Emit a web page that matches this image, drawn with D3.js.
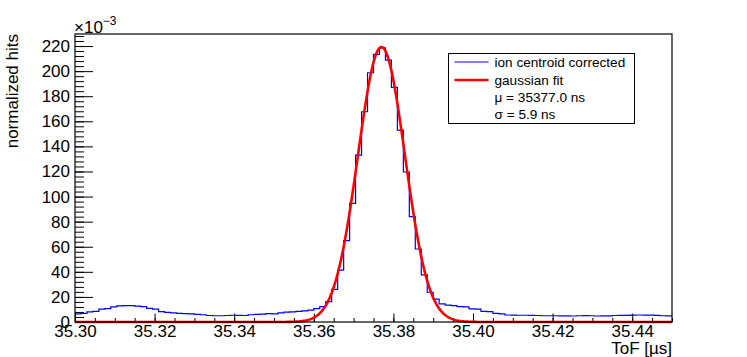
<!DOCTYPE html>
<html>
<head>
<meta charset="utf-8">
<script src="https://cdn.jsdelivr.net/npm/d3@7"></script>
<style>
  body { margin: 0; background: #fff; }
  svg { font-family: "Liberation Sans", Arial, sans-serif; }
</style>
</head>
<body>
<div id="body"></div>
<script>
// histogram: 100 bins between 35.30 and 35.45 us, values in units of 1e-3
var xRange = [35.30, 35.45];
var histValues = [
  6.4, 6.8, 8.0, 8.4, 10.2, 10.6, 12.0, 12.8, 13.1, 13.0,
  12.6, 12.2, 10.8, 10.3, 8.2, 7.6, 7.2, 6.8, 6.6, 6.4,
  6.0, 5.8, 5.2, 5.0, 5.0, 5.2, 5.4, 5.3, 5.2, 5.8,
  6.0, 6.3, 6.6, 6.5, 7.2, 7.9, 8.0, 8.4, 8.8, 9.4,
  10.6, 12.2, 16.2, 26.0, 41.4, 64.8, 94.6, 133.0, 167.6, 198.7,
  213.4, 218.6, 208.8, 187.0, 153.0, 119.6, 84.0, 58.2, 37.5, 23.7,
  18.3, 14.5, 13.5, 13.0, 12.2, 12.0, 10.5, 10.2, 8.4, 8.2,
  6.8, 6.4, 5.6, 5.5, 5.4, 5.4, 5.3, 5.2, 5.0, 5.0,
  5.0, 4.9, 4.9, 4.8, 5.0, 5.1, 5.0, 4.8, 4.9, 4.9,
  5.2, 5.3, 5.3, 5.5, 5.6, 5.5, 5.5, 5.3, 5.0, 4.9
];
// gaussian fit parameters (mu, sigma in us, amplitude in 1e-3)
var fitMu = 35.3770, fitSigma = 0.0059, fitAmp = 219.2;

var xTicks = [35.30, 35.32, 35.34, 35.36, 35.38, 35.40, 35.42, 35.44];
var yTicks = [0, 20, 40, 60, 80, 100, 120, 140, 160, 180, 200, 220];
var legendLabels = ["ion centroid corrected", "gaussian fit", "\u03bc = 35377.0 ns", "\u03c3 = 5.9 ns"];

var margin = {top: 34, right: 75, bottom: 35, left: 75},
    W = 747, H = 357,
    width = W - margin.left - margin.right,
    height = H - margin.top - margin.bottom;

var svg = d3.select("#body").append("svg")
    .attr("width", W)
    .attr("height", H);
svg.append("rect").attr("width", W).attr("height", H).attr("fill", "#fff");

var g = svg.append("g")
    .attr("transform", "translate(" + margin.left + "," + margin.top + ")");

var x = d3.scaleLinear().domain(xRange).range([0, width]);
var y = d3.scaleLinear().domain([0, 229.6]).range([height, 0]);

var binW = (xRange[1] - xRange[0]) / histValues.length;

// axes, ROOT style: ticks pointing into the frame
var xMinor = d3.range(0, 31).map(function(i) { return xRange[0] + i * 0.005; });
var yMinor = d3.range(0, 58).map(function(i) { return i * 4; });

g.append("g")
    .attr("transform", "translate(0," + height + ")")
    .call(d3.axisBottom(x).tickValues(xMinor).tickSize(-4).tickFormat(""))
    .call(function(s) { s.select(".domain").remove(); });
g.append("g")
    .attr("class", "x axis")
    .attr("transform", "translate(0," + height + ")")
    .call(d3.axisBottom(x).tickValues(xTicks).tickSize(-8.5).tickPadding(3).tickFormat(d3.format(".2f")))
    .call(function(s) { s.select(".domain").remove(); });

g.append("g")
    .call(d3.axisLeft(y).tickValues(yMinor.filter(function(v) { return v <= 229; })).tickSize(-9).tickFormat(""))
    .call(function(s) { s.select(".domain").remove(); });
g.append("g")
    .attr("class", "y axis")
    .call(d3.axisLeft(y).tickValues(yTicks).tickSize(-18).tickPadding(5))
    .call(function(s) { s.select(".domain").remove(); });

g.selectAll(".tick line").attr("stroke", "#000");
g.selectAll(".axis text").attr("font-size", 17).attr("fill", "#000")
    .attr("font-family", "Liberation Sans, Arial, sans-serif");

// histogram outline
var steps = [];
histValues.forEach(function(v, i) {
  steps.push([xRange[0] + i * binW, v]);
  steps.push([xRange[0] + (i + 1) * binW, v]);
});
g.append("path")
    .datum(steps)
    .attr("fill", "none")
    .attr("stroke", "#0000ff")
    .attr("stroke-width", 1.2)
    .attr("d", d3.line().x(function(d) { return x(d[0]); }).y(function(d) { return y(d[1]); }));

// fit curve
var fitPts = d3.range(0, 601).map(function(i) {
  var t = xRange[0] + i * (xRange[1] - xRange[0]) / 600;
  return [t, fitAmp * Math.exp(-0.5 * Math.pow((t - fitMu) / fitSigma, 2))];
});
g.append("path")
    .datum(fitPts)
    .attr("fill", "none")
    .attr("stroke", "#ff0000")
    .attr("stroke-width", 2.6)
    .attr("stroke-linejoin", "round")
    .attr("d", d3.line().x(function(d) { return x(d[0]); }).y(function(d) { return y(d[1]); }));

// frame
g.append("rect")
    .attr("width", width).attr("height", height)
    .attr("fill", "none").attr("stroke", "#000").attr("stroke-width", 1.2);

// exponent label
var ex = svg.append("text").attr("x", 74).attr("y", 33).attr("font-size", 17);
ex.append("tspan").text("\u00d710");
ex.append("tspan").attr("dy", -8).attr("font-size", 12).text("\u22123");

// axis titles
svg.append("text")
    .attr("transform", "translate(20,34) rotate(-90)")
    .attr("text-anchor", "end")
    .attr("font-size", 17)
    .attr("dy", "-0.1em")
    .text("normalized hits");

svg.append("text")
    .attr("x", margin.left + width)
    .attr("y", 354)
    .attr("text-anchor", "end")
    .attr("font-size", 17)
    .text("ToF [\u00b5s]");

// legend
var leg = svg.append("g").attr("transform", "translate(448.5,53.5)");
leg.append("rect").attr("width", 186).attr("height", 70)
    .attr("fill", "#fff").attr("stroke", "#000").attr("stroke-width", 1);
var rowY = [8.5, 26.5, 44, 60.5];
leg.append("line").attr("x1", 6).attr("x2", 40).attr("y1", rowY[0]).attr("y2", rowY[0])
    .attr("stroke", "#0000ff").attr("stroke-width", 1.2);
leg.append("line").attr("x1", 6).attr("x2", 40).attr("y1", rowY[1]).attr("y2", rowY[1])
    .attr("stroke", "#ff0000").attr("stroke-width", 2.6);
leg.selectAll("text.lab").data(legendLabels).enter().append("text")
    .attr("class", "lab")
    .attr("x", 46)
    .attr("y", function(d, i) { return rowY[i]; })
    .attr("dy", "0.35em")
    .attr("font-size", 13.6)
    .text(function(d) { return d; });
</script>
</body>
</html>
